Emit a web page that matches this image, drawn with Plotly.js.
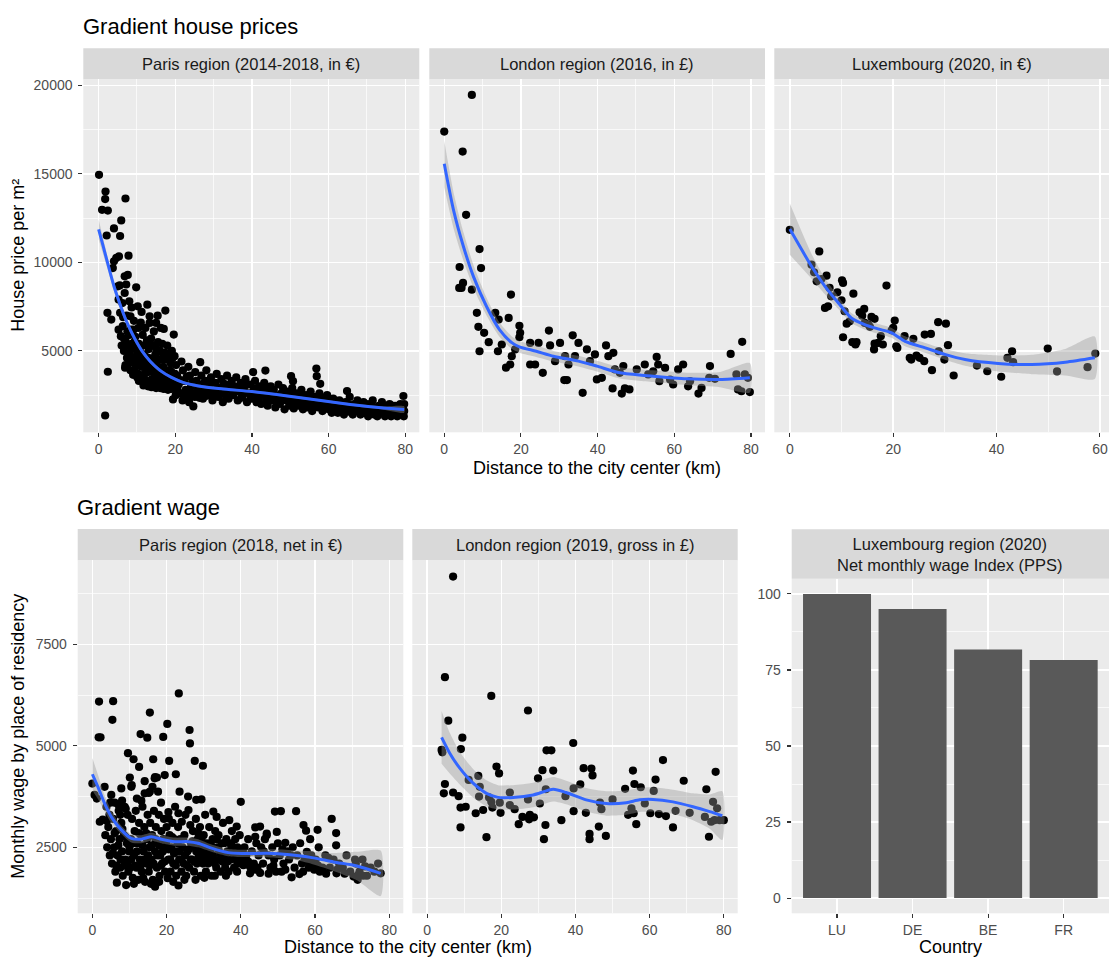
<!DOCTYPE html>
<html><head><meta charset="utf-8">
<script src="https://cdn.plot.ly/plotly-3.0.1.min.js"></script>
<style>body{margin:0;background:#fff}#chart{width:1110px;height:958px}</style>
</head><body><div id="chart"></div>
<script>
// ---------------- DATA ----------------
// Paris region house prices (km, price per m2)
const parisHouse = [
[0.1,14950],[1.8,14000],[1.7,13580],[0.9,12970],[2.4,12930],[7.0,13610],[5.9,12370],[4.0,11920],[2.1,11520],[5.6,11490],
[4.6,10250],[4.0,10060],[5.3,10340],[7.8,10380],[3.7,9680],[6.8,9210],[7.6,9290],[9.8,8590],[5.0,8650],[5.5,8700],
[6.8,8270],[7.2,8750],[5.2,7900],[6.2,7700],[8.0,7800],[8.6,7450],[10.2,7520],[12.7,7610],[2.3,7150],[3.3,6770],
[5.6,7150],[6.4,6900],[7.3,7000],[8.3,6950],[9.2,6700],[11.2,7200],[13.3,6950],[15.4,6990],[17.4,7280],[5.2,6200],
[5.8,5830],[6.3,6400],[7.0,5600],[7.5,6100],[8.0,5900],[8.6,5400],[9.1,6200],[9.6,5800],[10.4,6300],[11.0,6600],
[11.5,5900],[12.2,6300],[13.3,6580],[15.0,6580],[14.4,6100],[16.2,6300],[17.0,6240],[19.6,5920],[6.6,5000],[7.4,4600],
[7.0,4200],[8.1,4900],[8.8,4400],[9.4,5200],[9.9,4700],[10.5,5400],[10.9,4900],[11.6,5300],[12.1,4700],[12.6,5600],
[13.1,5100],[13.7,5700],[14.2,5300],[14.8,4800],[15.5,5500],[16.0,5000],[16.6,5400],[17.3,4900],[17.9,5300],[18.4,4700],
[19.1,5000],[6.9,4050],[8.3,3900],[9.0,3650],[9.7,4100],[10.3,3700],[10.8,4300],[11.3,3500],[11.9,4100],[12.4,3300],
[12.9,3800],[13.5,4400],[13.9,3400],[14.3,3900],[14.7,3100],[15.2,4200],[15.8,3600],[16.3,3200],[16.7,4500],[17.2,3700],
[17.8,3000],[18.3,3900],[18.8,4300],[19.2,3400],[19.7,2900],[10.5,3300],[11.7,3050],[12.9,3000],[13.8,2950],[15.0,2900],
[16.1,2900],[17.0,2850],[18.1,2800],[19.4,2260],[2.4,3820],[1.7,1350],[10.8,3400],[12.0,3700],[13.2,4000],[14.5,4600],
[15.6,4000],[16.9,4100],[18.0,3500],[18.6,3200],[19.0,3800],[11.4,4500],[12.4,4200],[13.6,3200],[15.3,3400],[16.4,3800],
[17.6,3300],[18.6,3600],
[6.0,5300],[6.6,5700],[7.8,5300],[8.4,6200],[9.3,5500],[10.0,5000],[10.7,4600],[11.3,4100],[11.8,4800],[12.5,3800],
[13.0,4600],[13.4,5400],[14.0,4300],[14.6,3700],[15.1,5100],[15.7,4500],[16.2,3500],[16.8,4800],[17.4,3400],[18.0,4500],
[18.6,3900],[19.3,4600],[19.6,3100],[19.9,3700],[7.9,4300],[8.6,4650],[9.3,3900],[10.0,4400],[10.1,3500],[12.2,3100],
[14.1,3200],[15.8,3100],[17.5,3050],[19.0,2850],
[19.8,4700],[20.2,4200],[20.5,3600],[20.9,3100],[21.3,2600],[21.6,4400],[22.0,3900],[22.3,3300],[22.7,2800],[23.1,2400],
[23.4,4100],[23.8,3600],[24.1,3000],[24.6,2600],[24.7,1860],[25.1,2400],[25.2,3800],[25.5,3300],[25.9,2800],[26.3,2350],
[26.5,4360],[20.1,2500],[21.9,2200],[23.6,2100],[26.8,3600],
[27.2,2300],[27.5,2800],[27.8,3300],[28.1,3900],[28.6,2500],[28.9,3000],[29.3,3500],[29.7,2200],[30.1,2700],[30.4,3200],
[30.8,3700],[31.2,2400],[31.6,2900],[32.0,3400],[32.4,2100],[32.8,2600],[33.1,3100],[33.5,3600],[33.9,2300],[34.3,2800],
[34.7,3300],[35.1,2500],[35.5,3000],[35.9,3500],[36.3,2200],[36.7,2700],[37.1,3200],[37.5,2400],[37.9,2900],[38.3,3400],
[38.7,2100],[39.1,2600],[39.5,3100],[39.9,2300],[40.3,3800],[40.5,2800],[40.8,3300],
[41.2,2100],[41.6,2500],[42.0,3000],[42.4,2000],[42.8,2700],[43.2,3200],[43.5,3890],[43.7,2300],[44.1,1900],[44.5,2600],
[44.9,3000],[45.3,2200],[45.7,2800],[46.1,1800],[46.5,2400],[46.9,3100],[47.3,2000],[47.7,2600],[48.1,2900],[48.5,1700],
[48.9,2200],[49.3,2700],[49.7,1900],[50.2,3570],[50.7,3290],[50.1,2400],[50.5,2900],[50.9,1750],[51.3,2100],[51.7,2600],
[52.1,1900],[52.5,2300],[52.9,2800],[53.3,1700],[53.7,2100],[54.1,2500],[54.5,1800],[54.9,2200],[55.3,2700],[55.7,1600],
[56.1,2000],[56.5,2400],[56.8,4000],[56.9,3570],[57.8,3140],[57.3,1800],[57.6,2600],[58.0,2100],[58.4,1600],[58.8,2300],
[59.2,1900],[59.6,2500],[60.0,1700],[60.4,2100],[60.8,1500],[61.2,2300],[61.6,1800],[62.0,2000],[62.4,1500],[62.8,2200],
[63.2,1700],[63.6,1900],[64.0,1400],[64.4,2100],[64.8,2730],[65.1,1600],[65.5,2400],[65.9,1800],[66.3,1400],[66.7,2000],
[67.1,1600],[67.5,2200],[67.9,1700],[68.3,1400],[68.7,1900],[69.1,2100],[69.5,1500],[69.9,1800],[70.3,1300],[70.7,2000],
[71.1,1600],[71.5,2200],[71.9,1400],[72.3,1800],[72.7,1300],[73.1,1900],[73.5,1500],[73.9,2100],[74.3,1700],[74.7,1300],
[75.1,1900],[75.5,1500],[75.9,2000],[76.3,1300],[76.7,1700],[77.1,1500],[77.5,1900],[77.9,1300],[78.3,1600],[78.7,2000],
[79.1,1400],[79.4,1800],[79.5,2450],[79.6,1300],[79.7,1600],
[20.6,2750],[21.4,3350],[22.2,2450],[23.0,3550],[23.8,2750],[24.4,3250],[25.4,2550],[26.0,3050],[26.7,2650],[27.3,3150],
[28.0,2450],[28.8,2750],[29.5,3250],[30.2,2450],[31.0,2950],[31.8,2550],[32.6,3150],[33.3,2350],[34.0,3050],[34.8,2550],
[35.6,2750],[36.4,2950],[37.2,2350],[38.0,2650],[38.8,3100],[39.6,2450],[40.2,2650],[41.0,2850],[41.8,2250],[42.6,2550],
[43.4,2850],[44.3,2150],[45.0,2650],[45.9,2350],[46.7,2150],[47.5,2550],[48.3,2350],[49.1,2550],[49.9,2150],[50.7,2650],
[51.5,2350],[52.3,2150],[53.1,2450],[53.9,1900],[54.7,2400],[55.5,2000],[56.3,2200],[57.1,2000],[57.9,2400],[58.7,1800],
[59.4,2200],[60.2,1950],[61.0,1700],[61.8,2150],[62.6,1750],[63.4,2050],[64.2,1650],[65.0,2000],[65.7,1550],[66.5,1800],
[67.3,1950],[68.1,1550],[68.9,1700],[69.7,2000],[70.5,1500],[71.3,1800],[72.1,1600],[72.9,1550],[73.7,1750],[74.5,1500],
[75.3,1700],[76.1,1550],[76.9,1900],[77.7,1450],[78.5,1750],[79.3,1550],[79.7,2000]
];
const parisHouseFitKm  = [0, 1.2, 2.3, 4.0, 5.8, 7.5, 9.4, 11.3, 13.5, 16, 19, 22, 26, 32, 40, 48.3, 57, 65.6, 74.3, 79.7];
const parisHouseFit    = [11860, 10900, 10000, 8650, 7500, 6550, 5700, 5000, 4400, 3900, 3500, 3220, 3020, 2860, 2700, 2480, 2220, 1970, 1770, 1690];
const parisHouseFitLo  = [11300, 10450, 9650, 8380, 7260, 6350, 5540, 4860, 4280, 3800, 3420, 3140, 2940, 2790, 2630, 2410, 2150, 1900, 1680, 1510];
const parisHouseFitHi  = [12420, 11350, 10350, 8920, 7740, 6750, 5860, 5140, 4520, 4000, 3580, 3300, 3100, 2930, 2770, 2550, 2290, 2040, 1860, 1870];

// London region house prices
const londonHouse = [
[0,17390],[7.2,19460],[4.8,16260],[5.7,12690],[9.2,10750],[4.0,9740],[9.6,9680],[4.9,8840],[4.5,8560],[3.9,8560],
[7.2,8460],[17.4,8180],[8.5,7150],[8.9,6360],[10.4,6020],[9.2,4980],[11.6,5490],[13.3,7150],[14.2,6770],[16.8,6860],
[14.0,4980],[15.0,5360],[16.1,4050],[17.2,4230],[17.6,4700],[18.5,5080],[19.6,6420],[19.8,6020],[19.6,5770],[22.4,4230],
[23.7,4230],[22.4,5450],[24.6,5450],[25.7,3760],[27.3,6150],[27.6,5310],[28.9,4420],[30.2,5450],[31.3,3350],[32.0,3350],
[31.5,4700],[32.4,4230],[33.5,5880],[35.0,5450],[34.1,4700],[36.1,2630],[37.2,5080],[38.0,4420],[39.3,4800],[39.8,3390],
[41.1,3480],[42.2,5310],[42.8,4700],[44.1,4890],[43.9,2880],[44.5,3950],[46.3,2590],[45.8,3760],[46.7,4140],[47.1,2880],
[48.3,2820],[50.2,3950],[52.3,4230],[53.2,3670],[55.4,4660],[55.8,4230],[54.5,3850],[56.1,3290],[57.6,4040],[58.9,3380],
[59.7,3100],[61.0,3950],[62.3,4230],[63.6,3000],[64.1,3290],[66.3,2590],[67.1,2910],[69.3,4140],[69.1,3480],[70.6,3420],
[74.7,4830],[76.2,3670],[76.6,2820],[77.5,2720],[77.7,5510],[78.4,3670],[79.7,2670],[79.2,3480]
];
const londonHouseFitKm = [0, 2.4, 5.0, 7.6, 11.0, 14.4, 17.7, 19.6, 24.0, 28.5, 35.0, 39.8, 45.8, 54.5, 63.2, 71.9, 79.7];
const londonHouseFit   = [15570, 12970, 10900, 9210, 7520, 6200, 5450, 5230, 4980, 4700, 4420, 4140, 3760, 3570, 3420, 3380, 3480];
const londonHouseFitLo = [14250, 11950, 10100, 8560, 7020, 5800, 5100, 4900, 4660, 4400, 4120, 3840, 3440, 3240, 3070, 2950, 2650];
const londonHouseFitHi = [16870, 13970, 11700, 9860, 8020, 6600, 5800, 5560, 5300, 5000, 4720, 4440, 4080, 3900, 3770, 3810, 4310];

// Luxembourg house prices
const luxHouse = [
[0,11840],[5.7,10620],[4.2,9870],[4.7,9440],[5.2,8930],[6.1,9060],[7.1,9250],[7.7,8560],[8.0,8080],[6.8,7430],
[7.4,7520],[9.2,8310],[10.1,8990],[10.3,8840],[10.0,7860],[10.6,7240],[11.0,6540],[11.6,6670],[10.3,5770],[12.3,8230],
[12.1,5490],[12.7,5360],[12.9,5490],[13.5,7180],[14.4,7370],[14.0,6990],[14.5,6580],[15.8,6920],[16.4,6810],[15.2,6490],
[15.5,6360],[18.7,8690],[16.4,5410],[17.1,5450],[16.3,5080],[18.0,5360],[17.6,5830],[19.7,6160],[20.0,6300],[20.3,6710],
[20.6,5260],[20.8,5170],[22.2,5830],[23.9,5680],[23.2,4610],[23.5,4510],[24.5,4740],[25.1,4610],[26.0,4420],[26.1,5920],
[27.3,5960],[27.5,3910],[28.7,6620],[30.2,6540],[28.8,4980],[29.9,4510],[30.6,5320],[31.7,3610],[36.2,4170],[38.2,3850],
[40.9,3540],[42.1,4610],[43.0,4980],[43.2,4360],[49.9,5130],[51.7,3840],[57.6,4080],[59.1,4850]
];
const luxHouseFitKm = [0, 4.2, 6.8, 9.4, 11.9, 14.5, 17.1, 19.7, 22.3, 26.2, 30.0, 33.9, 40.3, 46.8, 53.3, 59.0];
const luxHouseFit   = [11880, 9780, 8650, 7710, 6860, 6490, 6240, 6020, 5540, 5170, 4800, 4510, 4290, 4230, 4360, 4610];
const luxHouseFitLo = [10430, 9080, 8200, 7360, 6580, 6210, 5960, 5740, 5260, 4890, 4500, 4160, 3840, 3680, 3610, 3410];
const luxHouseFitHi = [13330, 10480, 9100, 8060, 7140, 6770, 6520, 6300, 5820, 5450, 5100, 4860, 4740, 4780, 5110, 5810];

// Paris region wages (km, monthly net wage)
const parisWage = [
[1.8,6090],[5.6,6100],[5.4,5640],[1.7,5210],[2.2,5210],[23.3,6290],[15.5,5820],[20.2,5540],[13.0,5290],[14.8,5200],
[19.1,5220],[26.2,5390],[26.3,5060],[9.6,4820],[11.1,4670],[16.4,4670],[20.7,4630],[12.6,4480],[27.6,4630],[29.8,4510],
[22.5,4300],[19.5,4280],[10.1,4220],[16.8,4200],[17.4,4220],[14.1,4130],[0,4070],[0.6,3790],[3.3,3990],[7.8,3950],
[10.5,3990],[14.1,3830],[15.5,3870],[17.7,3870],[5.1,3790],[23.5,3870],[25.8,3750],[28.0,3670],[29.4,3680],[40.0,3620],
[49.2,3380],[50.8,3390],[54.9,3390],[64.5,3200],[56.9,3050],[57.6,2910],[58.7,2700],[60.7,2930],[65.7,2850],[65.7,2550],
[2.0,3130],[2.8,3180],[1.2,3700],[3.8,3500],[4.6,3300],
[3.5,2800],[4.0,2500],[4.3,3000],[4.7,2300],[5.0,2700],[5.3,2100],[5.6,3200],[5.9,2500],[6.2,1900],[6.4,2900],
[6.6,1630],[6.8,2300],[7.1,3400],[7.3,2700],[7.5,2000],[7.8,3100],[8.0,2400],[8.2,1800],[8.5,2800],[8.7,3500],
[8.9,2200],[9.1,1570],[9.3,2600],[9.5,3300],[9.7,1900],[9.9,2400],[6.0,3600],[7.0,3550],[8.0,3650],[9.0,3450],
[4.8,3600],[3.9,3150],[7.5,3300],
[10.2,2000],[10.4,2700],[10.7,3200],[10.9,1750],[11.2,2300],[11.4,2900],[11.7,3400],[11.9,2000],[12.1,2600],[12.4,1700],
[12.6,3100],[12.8,2200],[13.1,2800],[13.3,1900],[13.5,3500],[13.8,2400],[14.0,3000],[14.2,1650],[14.5,2100],[14.7,2700],
[14.9,3300],[15.2,1900],[15.4,2500],[15.6,3100],[15.9,2200],[16.1,2800],[16.3,1700],[16.6,3400],[16.9,1530],[16.9,2400],
[17.1,3000],[17.4,2000],[17.6,2600],[17.9,3300],[18.1,1800],[18.3,2300],[18.6,2900],[18.8,2100],[19.1,2700],[19.3,3200],
[19.6,1900],[19.8,2500],[20.0,3000],[16.2,3990],[16.9,4230],[15.2,3840],[10.6,4030],[12.0,3700],[18.5,3600],[13.2,3650],
[20.3,1740],[20.5,3370],[20.6,3210],[20.5,2200],[20.8,2800],[21.1,1900],[21.3,2500],[21.6,3100],[21.8,2100],[22.1,2700],
[22.3,3500],[22.6,1800],[22.8,2400],[23.1,3000],[23.2,1560],[23.2,3340],[23.4,2200],[23.7,2700],[24.1,3130],[24.0,1900],
[24.3,2500],[24.6,2100],[24.8,2800],[25.1,3300],[25.3,1800],[25.6,2400],[25.9,3420],[26.1,2000],[26.4,3050],[26.6,2600],
[26.9,2200],[27.1,2900],[27.4,1900],[27.6,2500],[27.9,3200],[28.2,2100],[28.4,2700],[28.7,2300],[29.0,3000],[29.2,1800],
[29.5,2500],[29.8,2100],[30.0,2800],
[30.4,3300],[30.3,2300],[30.6,1900],[30.9,2600],[31.2,2100],[31.5,3000],[31.8,2400],[32.1,1800],[32.4,2700],[32.6,3380],
[32.8,2200],[33.1,2900],[33.5,3250],[33.4,2000],[33.7,2500],[34.0,2800],[34.3,2200],[34.6,1900],[34.9,2600],[35.2,3100],
[35.5,2300],[35.8,2000],[36.1,2700],[36.4,2400],[36.9,3170],[36.7,1900],[37.0,2600],[37.3,2200],[37.6,2900],[37.9,2400],
[38.2,2000],[38.5,2700],[38.9,3010],[38.8,2300],[39.1,2500],[39.4,2100],[39.7,2800],[40.0,2300],
[40.7,2060],[42.5,2020],[42.5,1860],[45.2,1870],[43.9,2990],[49.7,2880],[47.0,2800],[52.0,2610],[57.8,2390],[63.6,2240],
[70.8,2200],[73.5,2030],[77.7,1860],[71.7,1820],[70.4,1780],[65.8,1860],[61.3,1900],[53.7,1760],[55.8,1840],[49.5,1900],
[51.0,1900],[45.2,3010],[47.0,2840],[43.9,2760],
[41.0,2500],[41.5,2300],[42.0,2700],[43.0,2400],[43.5,2100],[44.2,2600],[44.8,2300],[45.5,2500],[46.0,2100],[46.5,2700],
[47.5,2300],[48.0,2000],[48.5,2500],[49.0,2200],[50.0,2600],[50.5,2300],[51.5,2100],[52.5,2400],[53.0,2200],[54.0,2500],
[54.5,2000],[55.2,2300],[56.0,2600],[56.5,2100],[57.2,2200],[58.3,2000],[59.0,2300],[59.5,2100],[60.2,2200],[61.0,2500],
[62.0,2000],[62.8,2300],[64.0,2000],[65.0,2200],[66.5,2100],[67.5,2000],[68.5,2300],[69.5,1900],[71.0,2100],[72.0,1900],
[72.8,2200],[74.0,1800],[75.0,2000],[76.0,1900],[77.0,2100],[71.5,1700],[73.0,1800],[44.0,1950],[47.5,1850],[52.0,1950],
[56.8,1900],[59.8,1950],[63.0,1850],[66.0,1950],[68.0,1850],
[5.5,2350],[6.0,2850],[6.5,2050],[7.0,2550],[7.6,2200],[8.1,2950],[8.6,2050],[9.0,2750],[9.6,2150],[10.0,2500],
[10.5,2200],[11.0,2600],[11.5,2050],[12.0,2400],[12.5,2850],[13.0,2050],[13.5,2550],[14.0,2200],[14.5,2850],[15.0,2300],
[15.5,2050],[16.0,2550],[16.5,2100],[17.0,2700],[17.5,2300],[18.0,2550],[18.5,2050],[19.0,2400],[19.5,2150],[20.0,2650],
[20.5,2450],[21.0,2200],[21.5,2750],[22.0,2350],[22.5,2050],[23.0,2600],[23.5,2400],[24.0,2200],[24.5,2700],[25.0,2300],
[25.5,2050],[26.0,2450],[26.5,2200],[27.0,2650],[27.5,2150],[28.0,2400],[28.5,2850],[29.0,2200],[29.5,2650],[30.0,2400],
[30.5,2150],[31.0,2450],[31.5,2250],[32.0,2550],[32.5,2300],[33.0,2100],[33.5,2700],[34.0,2450],[34.5,2350],[35.0,2150],
[35.5,2600],[36.0,2250],[36.5,2150],[37.0,2400],[37.5,2550],[38.0,2250],[38.5,2350],[39.0,2150],[39.5,2450],[40.3,2150],
[40.5,2400],[11.2,1600],[13.7,1750],[15.8,1600],[18.0,1650],[21.8,1650],[24.8,1700],[27.8,1700],[30.2,1750],[33.0,1800],
[36.0,1800],[39.0,1900],[42.0,2150],[44.5,2000],[46.2,2400],[48.8,2050],[51.2,2450],[53.5,2300],[58.2,2150],[60.8,2050]
];
const parisWageFitKm = [0, 1.5, 3.3, 5.1, 7.8, 10.5, 13.2, 15.9, 18.6, 22.2, 25.8, 28.5, 32.1, 36.6, 40.6, 48.8, 55.1, 59.6, 65, 71.3, 77.7];
const parisWageFit   = [4300, 3990, 3580, 3250, 2930, 2720, 2700, 2760, 2700, 2640, 2640, 2600, 2480, 2370, 2350, 2350, 2300, 2240, 2140, 2040, 1860];
const parisWageFitLo = [3900, 3690, 3380, 3100, 2830, 2620, 2600, 2660, 2600, 2540, 2540, 2500, 2390, 2280, 2260, 2250, 2180, 2080, 1920, 1690, 1300];
const parisWageFitHi = [4700, 4290, 3780, 3400, 3030, 2820, 2800, 2860, 2800, 2740, 2740, 2700, 2570, 2460, 2440, 2450, 2420, 2400, 2360, 2390, 2420];

// London region wages (gross)
const londonWage = [
[7.0,9170],[4.8,6690],[17.3,6230],[27.2,5870],[5.7,5620],[9.5,5200],[39.4,5070],[3.9,4900],[4.1,4840],[9.1,4920],
[32.2,4890],[33.5,4890],[18.7,4490],[19.4,4320],[31.1,4400],[34.0,4390],[42.2,4450],[44.3,4440],[44.6,4270],[55.5,4390],
[63.6,4650],[77.8,4360],[69.2,4140],[61.6,4170],[75.3,3930],[13.8,4260],[11.2,4160],[4.8,4060],[14.2,3990],[29.9,4200],
[39.5,3950],[41.3,4050],[32.0,3930],[22.3,3850],[37.3,3760],[50.0,3680],[53.4,3940],[55.9,4060],[57.6,3980],[61.1,3890],
[4.5,3830],[7.0,3850],[8.5,3760],[14.0,3750],[16.7,3730],[17.3,3620],[17.6,3480],[19.6,3600],[27.2,3680],[30.4,3580],
[22.3,3540],[23.6,3440],[9.0,3480],[10.4,3500],[13.1,3340],[15.1,3420],[19.8,3350],[46.6,3600],[47.0,3440],[39.5,3390],
[42.8,3350],[55.1,3460],[55.7,3340],[58.7,3580],[67.0,3400],[70.8,3350],[77.1,3620],[78.2,3460],[54.2,3300],[60.2,3340],
[62.5,3320],[64.4,3270],[74.9,3250],[76.6,3130],[77.5,3170],[78.9,3170],[80.0,3170],[25.7,3250],[27.7,3300],[28.8,3240],
[27.5,3190],[24.7,3070],[31.9,3050],[36.2,3170],[9.0,2990],[16.0,2750],[31.5,2700],[43.8,2830],[43.8,2700],[46.3,3010],
[48.2,2780],[56.4,3070],[66.3,2990],[76.0,2760]
];
const londonWageFitKm = [3.9, 6.1, 8.8, 12.4, 16.0, 19.1, 23.2, 28.6, 34.0, 37.5, 42.9, 48.3, 53.7, 57.3, 60.9, 66.3, 71.7, 76.2, 79.6];
const londonWageFit   = [5210, 4820, 4450, 4080, 3830, 3730, 3730, 3790, 3930, 3850, 3670, 3580, 3600, 3670, 3680, 3620, 3500, 3380, 3280];
const londonWageFitLo = [4560, 4320, 4050, 3730, 3510, 3430, 3430, 3490, 3630, 3560, 3380, 3280, 3300, 3370, 3380, 3320, 3170, 2960, 2680];
const londonWageFitHi = [5860, 5320, 4850, 4430, 4150, 4030, 4030, 4090, 4230, 4140, 3960, 3880, 3900, 3970, 3980, 3920, 3830, 3800, 3880];

// Luxembourg region wage index (PPS)
const countries = ['LU', 'DE', 'BE', 'FR'];
const wageIndex = [100, 95, 81.7, 78.3];

// Text
const titleHouse = 'Gradient house prices';
const titleWage = 'Gradient wage';
const stripLabels = ['Paris region (2014-2018, in €)', 'London region (2016, in £)', 'Luxembourg (2020, in €)',
  'Paris region (2018, net in €)', 'London region (2019, gross in £)', 'Luxembourg region (2020)<br>Net monthly wage Index (PPS)'];
const xTitle = 'Distance to the city center (km)';
const yTitleHouse = 'House price per m²';
const yTitleWage = 'Monthly wage by place of residency';
const xTitleBar = 'Country';

// ---------------- LAYOUT ----------------
const W = 1110, H = 958;
const PX = v => v / W, PY = v => 1 - v / H;
const FONT = '"Liberation Sans", Arial, sans-serif';

// panel boxes in pixels [left, right, top, bottom]
const panels = [
  [83.3, 419.3, 79.3, 432.3],
  [429.3, 765, 79.3, 432.3],
  [774.3, 1109, 79.3, 432.3],
  [77.7, 403.3, 560.3, 913.3],
  [412.3, 737.7, 560.3, 913.3],
  [791.7, 1109, 578.7, 913.3]
];
const stripTop = [48.3, 48.3, 48.3, 529, 529, 529.3];

const ax = i => (i === 1 ? '' : String(i));
function pts(data, i) {
  return {type: 'scatter', mode: 'markers', x: data.map(d => d[0]), y: data.map(d => d[1]),
    xaxis: 'x' + ax(i), yaxis: 'y' + ax(i),
    marker: {color: '#000000', size: 8.2}, hoverinfo: 'skip', showlegend: false};
}
function band(km, lo, hi, i) {
  return {type: 'scatter', mode: 'lines', x: km.concat(km.slice().reverse()), y: hi.concat(lo.slice().reverse()),
    fill: 'toself', fillcolor: 'rgba(153,153,153,0.4)', line: {width: 0, shape: 'spline', smoothing: 0.6},
    xaxis: 'x' + ax(i), yaxis: 'y' + ax(i), hoverinfo: 'skip', showlegend: false};
}
function fit(km, y, i) {
  return {type: 'scatter', mode: 'lines', x: km, y: y, line: {color: '#3366FF', width: 3, shape: 'spline', smoothing: 0.7},
    xaxis: 'x' + ax(i), yaxis: 'y' + ax(i), hoverinfo: 'skip', showlegend: false};
}

const traces = [
  pts(parisHouse, 1), band(parisHouseFitKm, parisHouseFitLo, parisHouseFitHi, 1), fit(parisHouseFitKm, parisHouseFit, 1),
  pts(londonHouse, 2), band(londonHouseFitKm, londonHouseFitLo, londonHouseFitHi, 2), fit(londonHouseFitKm, londonHouseFit, 2),
  pts(luxHouse, 3), band(luxHouseFitKm, luxHouseFitLo, luxHouseFitHi, 3), fit(luxHouseFitKm, luxHouseFit, 3),
  pts(parisWage, 4), band(parisWageFitKm, parisWageFitLo, parisWageFitHi, 4), fit(parisWageFitKm, parisWageFit, 4),
  pts(londonWage, 5), band(londonWageFitKm, londonWageFitLo, londonWageFitHi, 5), fit(londonWageFitKm, londonWageFit, 5),
  {type: 'bar', x: countries, y: wageIndex, xaxis: 'x6', yaxis: 'y6', width: 0.9,
   marker: {color: '#595959', line: {width: 0}}, hoverinfo: 'skip', showlegend: false}
];

const tickFont = {family: FONT, size: 14, color: '#4D4D4D'};
function axis(extra) {
  return Object.assign({showgrid: true, gridcolor: '#FFFFFF', gridwidth: 1.4, zeroline: false, showline: false,
    ticks: 'outside', ticklen: 4, tickwidth: 1.1, tickcolor: '#333333', tickfont: tickFont, fixedrange: true}, extra);
}
const minor = d => ({dtick: d, showgrid: true, gridcolor: '#FFFFFF', gridwidth: 0.7, ticks: ''});

const layout = {
  width: W, height: H, autosize: false,
  margin: {l: 0, r: 0, t: 0, b: 0, pad: 0},
  paper_bgcolor: '#FFFFFF', plot_bgcolor: '#EBEBEB',
  font: {family: FONT, color: '#000000'},
  showlegend: false
};
const xRanges = [[-4.0, 83.65], [-3.9, 83.65], [-3.0, 61.75], [-3.95, 83.8], [-4.0, 83.75]];
const yTop = [400, 20345], yBot = [875, 9570];
for (let i = 1; i <= 6; i++) {
  const p = panels[i - 1];
  const xk = 'xaxis' + ax(i), yk = 'yaxis' + ax(i);
  const xa = 'x' + ax(i), ya = 'y' + ax(i);
  const xdom = [PX(p[0]), PX(p[1])], ydom = [PY(p[3]), PY(p[2])];
  if (i <= 5) {
    layout[xk] = axis({domain: xdom, anchor: ya, range: xRanges[i - 1], tickmode: 'linear', tick0: 0, dtick: 20, minor: minor(10)});
    const top = i <= 3;
    const showY = (i === 1 || i === 4);
    layout[yk] = axis({domain: ydom, anchor: xa, range: top ? yTop : yBot, tickmode: 'linear', tick0: 0,
      dtick: top ? 5000 : 2500, tickformat: 'd', minor: minor(top ? 2500 : 1250),
      showticklabels: showY, ticks: showY ? 'outside' : '', ticklabelstandoff: 3});
  } else {
    layout[xk] = axis({domain: xdom, anchor: ya, type: 'category', categoryorder: 'array', categoryarray: countries, range: [-0.6, 3.6]});
    layout[yk] = axis({domain: ydom, anchor: xa, range: [-5, 105], tickmode: 'linear', tick0: 0, dtick: 25, minor: minor(12.5), ticklabelstandoff: 3});
  }
}

// strips
layout.shapes = panels.map((p, i) => ({type: 'rect', xref: 'paper', yref: 'paper', layer: 'below',
  x0: PX(p[0]), x1: PX(p[1]), y0: PY(p[2]), y1: PY(stripTop[i]), fillcolor: '#D9D9D9', line: {width: 0}}));

const ann = [];
panels.forEach((p, i) => ann.push({text: stripLabels[i], xref: 'paper', yref: 'paper', showarrow: false,
  x: PX((p[0] + p[1]) / 2), y: PY((p[2] + stripTop[i]) / 2), xanchor: 'center', yanchor: 'middle',
  font: {family: FONT, size: 16.5, color: '#1A1A1A'}}));
const txt = (text, x, y, size, opts) => Object.assign({text: text, xref: 'paper', yref: 'paper', showarrow: false,
  x: PX(x), y: PY(y), xanchor: 'center', yanchor: 'middle', font: {family: FONT, size: size, color: '#000000'}}, opts || {});
ann.push(txt(titleHouse, 81, 26, 22, {xanchor: 'left'}));
ann.push(txt(titleWage, 75, 507, 22, {xanchor: 'left'}));
ann.push(txt(xTitle, 597.2, 468, 18));
ann.push(txt(xTitle, 407.7, 947, 18));
ann.push(txt(xTitleBar, 950.4, 947, 18));
ann.push(txt(yTitleHouse, 18, 255.8, 18, {textangle: -90}));
ann.push(txt(yTitleWage, 18, 736.8, 18, {textangle: -90}));
layout.annotations = ann;

Plotly.newPlot('chart', traces, layout, {staticPlot: true, displayModeBar: false});
</script>
</body></html>
